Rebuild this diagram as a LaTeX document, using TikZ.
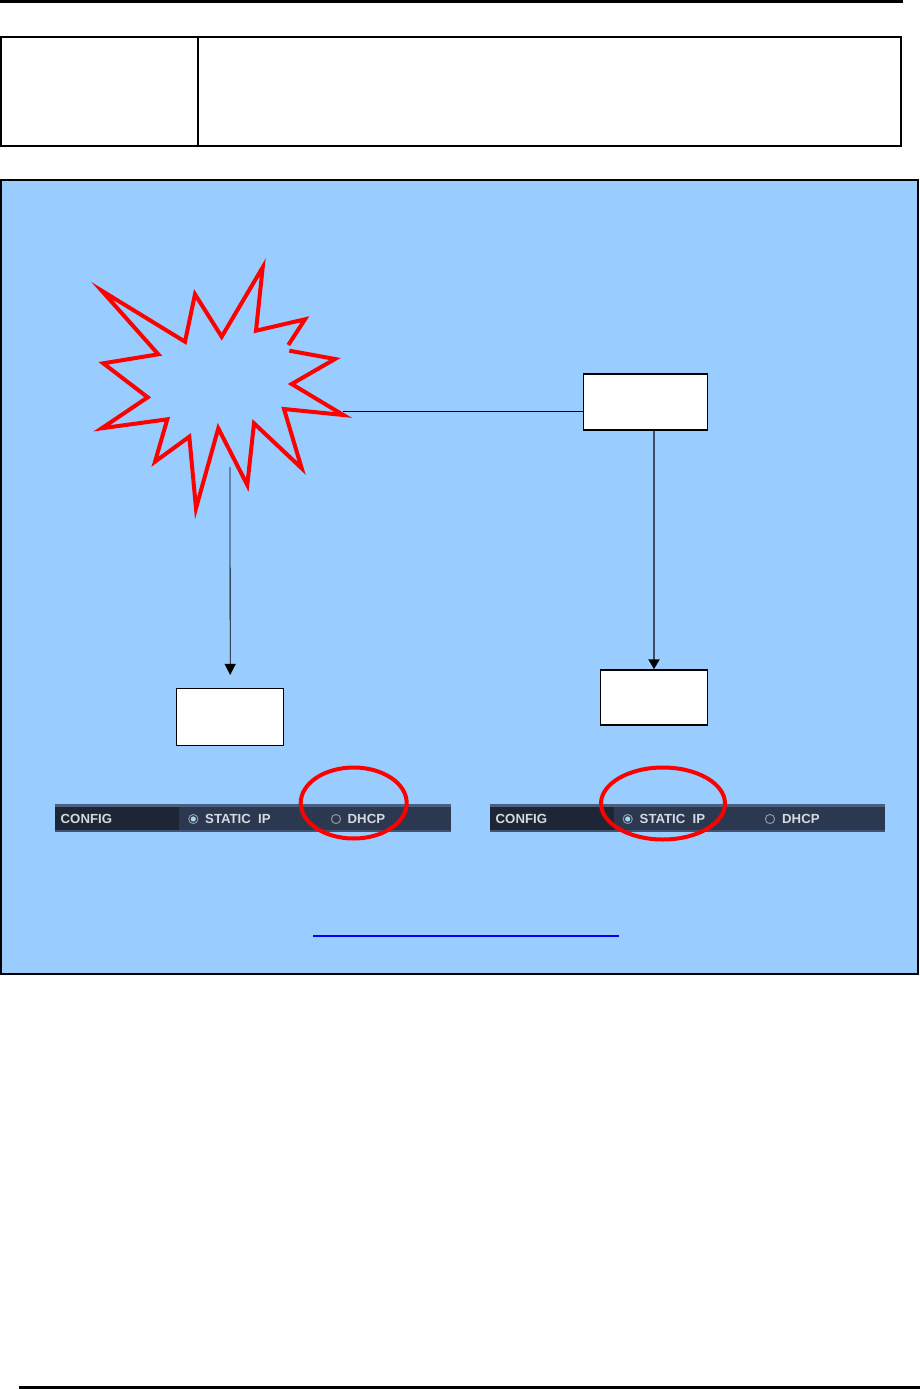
\documentclass[tikz,border=0pt]{standalone}
\usepackage{fontspec}
\setmainfont{Liberation Sans}
\usetikzlibrary{arrows.meta}
\definecolor{panelblue}{HTML}{99CCFF}
\definecolor{bardark}{HTML}{1E2535}
\definecolor{barmid}{HTML}{2C3850}
\definecolor{bartop}{HTML}{4A5F82}
\definecolor{bartext}{HTML}{D5DAE2}
\definecolor{radioring}{HTML}{8C97A8}
\definecolor{radiodot}{HTML}{A6D8EA}
\definecolor{slatearrow}{HTML}{3B4C6A}
\definecolor{linkblue}{HTML}{0000FF}
\tikzset{
  whitebox/.style={draw=black, line width=1.5pt, fill=white, inner sep=0pt},
  rulebar/.style={line width=3pt},
  burst/.style={draw=red, line width=4pt, miter limit=10},
  redring/.style={draw=red, line width=4pt},
  bartxt/.style={font=\bfseries\fontsize{13.2}{15}\selectfont, text=bartext, anchor=west, inner sep=0pt},
  radio/.style={draw=radioring, line width=1pt, fill=barmid},
  tip/.style={-{Triangle[width=11pt,length=11pt]}}
}
\begin{document}
\begin{tikzpicture}[x=1pt,y=-1pt]
\useasboundingbox (0,0) rectangle (920,1389);
% page rules
\draw[rulebar] (0,1.5) -- (903,1.5);
\draw[rulebar] (19,1387) -- (920,1387);
% table
\draw[line width=1.5pt] (1,37) rectangle (901,146);
\draw[line width=1.5pt] (198,37) -- (198,146);
% panel
\draw[line width=2pt, fill=panelblue] (1,180) rectangle (918,974);
% starburst
\draw[burst] (289.3,350.7) -- (335,359) -- (291.7,384) -- (343.3,415) -- (284,409)
  -- (301.7,468.3) -- (254,423.3) -- (247.3,485) -- (218.3,428.3) -- (196,508.3)
  -- (189.3,436.7) -- (155,461.7) -- (167.3,419.3) -- (101.7,428.3) -- (147.7,397.3)
  -- (103.3,363.3) -- (158.3,354.3) -- (101.7,290.7) -- (185,341.7) -- (195,294.3)
  -- (221.7,336.7) -- (262.7,267.3) -- (256,330.7) -- (305,319.3) -- (288.3,345);
\coordinate (burstR) at (343,411.5);
\coordinate (burstB) at (230,467);
% boxes
\node[whitebox, minimum width=124pt, minimum height=56pt] (box1) at (645.3,402.2) {};
\node[whitebox, minimum width=106.6pt, minimum height=55pt] (box2) at (654,697.5) {};
\node[whitebox, minimum width=107pt, minimum height=56.6pt] (box3) at (230.2,717) {};
\coordinate (arrowL) at ([yshift=13pt]box3.north);
% connectors
\draw[line width=0.8pt] (burstR) -- (burstR -| box1.west);
\draw[line width=2.2pt, slatearrow, -{Triangle[width=11pt,length=10pt,color=black]}] (box1.south -| box2.north) -- (box2.north);
\draw[line width=0.8pt, tip] (burstB) -- (arrowL);
% left config bar
\fill[barmid] (55,804) rectangle (450.7,831.7);
\fill[bardark] (55,807) rectangle (179,829.5);
\fill[bartop] (55,804) rectangle (450.7,807);
\fill[bartop!70!barmid] (55,829.5) rectangle (450.7,831.7);
\node[bartxt] (cfgL) at (60.5,819) {CONFIG};
\draw[radio] (193.3,819) circle (4.6pt);
\fill[radiodot] (193.3,819) circle (2.6pt);
\node[bartxt] (staticL) at (205,819) {STATIC\ \ IP};
\draw[radio] (336,819) circle (4.6pt);
\node[bartxt] (dhcpL) at (347.5,819) {DHCP};
% right config bar
\fill[barmid] (490,804) rectangle (885,831.7);
\fill[bardark] (490,807) rectangle (614,829.5);
\fill[bartop] (490,804) rectangle (885,807);
\fill[bartop!70!barmid] (490,829.5) rectangle (885,831.7);
\node[bartxt] (cfgR) at (495.5,819) {CONFIG};
\draw[radio] (627.7,819) circle (4.6pt);
\fill[radiodot] (627.7,819) circle (2.6pt);
\node[bartxt] (staticR) at (639.5,819) {STATIC\ \ IP};
\draw[radio] (770,819) circle (4.6pt);
\node[bartxt] (dhcpR) at (782,819) {DHCP};
% red rings
\draw[redring] (353.7,803) ellipse [x radius=53, y radius=35.5];
\draw[redring] (663,803.5) ellipse [x radius=62, y radius=36];
% link underline
\draw[linkblue, line width=2pt] (313,935.7) -- (619,935.7);
\end{tikzpicture}
\end{document}
